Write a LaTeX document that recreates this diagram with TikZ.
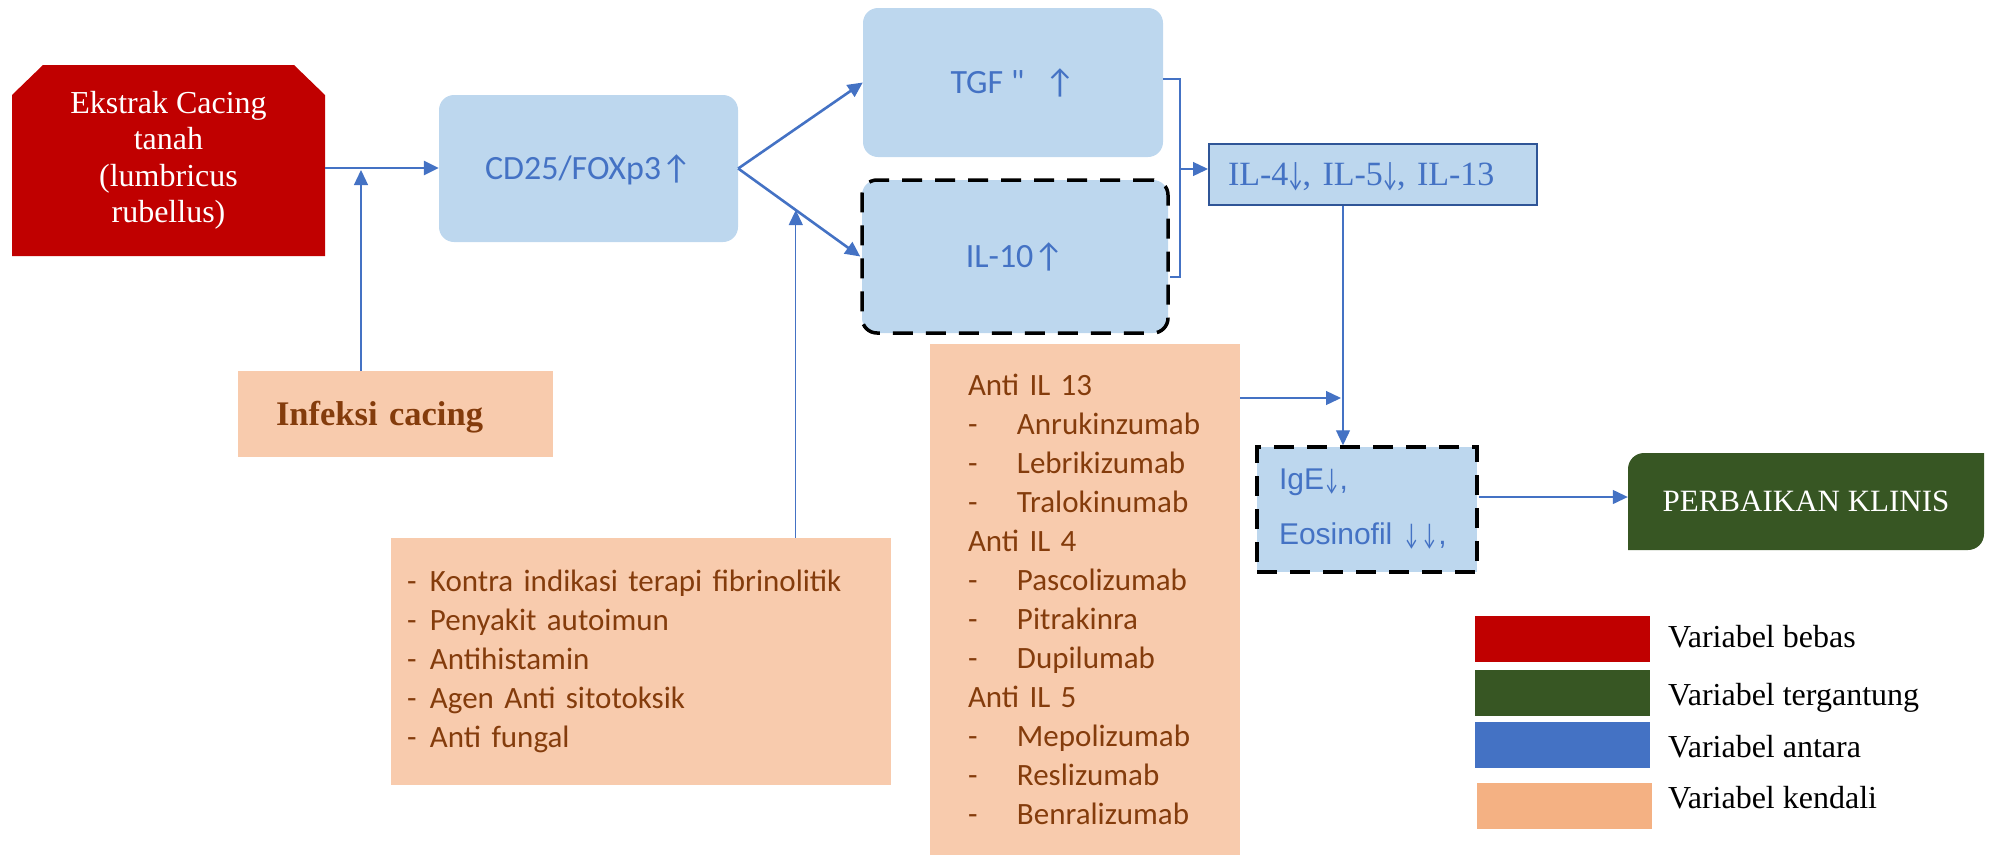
\documentclass[tikz,border=0pt]{standalone}
\usepackage{fontspec}
\setmainfont{Liberation Serif}
\newfontfamily\calfont{Carlito}
\newfontfamily\arifont{Liberation Sans}
\newcommand{\dnarr}[1]{\makebox[#1]{\scalebox{0.6}[1]{\calfont ↓}}}
\usetikzlibrary{arrows.meta,calc}
\definecolor{redc}{HTML}{C00000}
\definecolor{greenc}{HTML}{375623}
\definecolor{bluec}{HTML}{4472C4}
\definecolor{blued}{HTML}{2F5597}
\definecolor{lblue}{HTML}{BDD7EE}
\definecolor{lorange}{HTML}{F8CBAD}
\definecolor{orangec}{HTML}{F4B183}
\definecolor{brownc}{HTML}{843C0C}
\begin{document}
\begin{tikzpicture}[x=1pt,y=-1pt,
  mainarr/.style={draw=bluec,line width=2.6pt,-{Triangle[length=15pt,width=14pt]}},
  thinarr/.style={draw=bluec,line width=1.3pt,-{Triangle[length=15pt,width=14pt]}},
  thinline/.style={draw=bluec,line width=1.3pt},
  lbbox/.style={fill=lblue,rounded corners=15pt,inner sep=0pt,text=bluec,font=\fontsize{34}{40}\selectfont\calfont,text height=22pt,text depth=0pt},
  dashbox/.style={draw=black,line width=3.5pt,dash pattern=on 20pt off 13pt},
  orbox/.style={fill=lorange,inner ysep=0pt,text=brownc,align=left},
  legbox/.style={minimum width=175pt,minimum height=46pt,inner sep=0pt},
  legtxt/.style={anchor=base west,inner sep=0pt,font=\fontsize{32}{38}\selectfont},
]
\useasboundingbox (0,0) rectangle (1990,855);

% independent variable
\fill[redc] (12,256) -- (12,95) -- (43,65) -- (294,65) -- (325,95) -- (325,256) -- cycle;
\node[minimum width=313pt,minimum height=191pt,inner sep=0pt,text=white,font=\fontsize{32}{36.5}\selectfont] (ext) at (168.5,160.5)
  {\raisebox{-7.5pt}{\begin{tabular}{@{}c@{}}Ekstrak Cacing\\tanah\\(lumbricus\\rubellus)\end{tabular}}};

% intermediate boxes
\node[lbbox,minimum width=299pt,minimum height=147pt] (cd) at (588.5,168.5) {CD25/FOXp3↑};
\node[lbbox,minimum width=300pt,minimum height=149pt] (tgf) at (1013,82.5) {TGF "\hspace{20pt}↑};
\node[lbbox,dashbox,minimum width=306pt,minimum height=153pt] (il10) at (1015,256.5) {IL-10↑};
\node[fill=lblue,draw=blued,line width=2pt,minimum width=328pt,minimum height=61pt,inner xsep=19pt,inner ysep=0pt,text width=290pt,align=left,text=bluec,font=\fontsize{34}{40}\selectfont,text height=22.5pt,text depth=0pt] (il4) at (1373,174.5) {\mbox{IL-4\dnarr{0.42em}, IL-5\dnarr{0.42em}, IL-13}};
\node[fill=lblue,dashbox,minimum width=220pt,minimum height=125pt,inner xsep=22pt,inner ysep=0pt,text width=176pt,align=left,text=bluec,font=\fontsize{30}{55}\selectfont\arifont] (ige) at (1367,509.5) {\mbox{IgE\dnarr{0.52em},}\\\mbox{Eosinofil \dnarr{0.6em}\dnarr{0.6em},}};

% control variables
\node[orbox,minimum width=315pt,minimum height=86pt,inner xsep=38pt,text width=239pt,font=\bfseries\fontsize{34.5}{40}\selectfont,text height=23pt,text depth=0pt] (inf) at (395.5,414) {Infeksi cacing};
\node[orbox,minimum width=500pt,minimum height=247pt,inner xsep=16pt,text width=468pt,font=\fontsize{31}{39}\selectfont\calfont] (kon) at (641,661.5)
  {\makebox[23pt][l]{-}Kontra indikasi terapi fibrinolitik\\
   \makebox[23pt][l]{-}Penyakit autoimun\\
   \makebox[23pt][l]{-}Antihistamin\\
   \makebox[23pt][l]{-}Agen Anti sitotoksik\\
   \makebox[23pt][l]{-}Anti fungal};
\node[orbox,minimum width=310pt,minimum height=511pt,inner xsep=38pt,text width=234pt,font=\fontsize{31}{39}\selectfont\calfont] (anti) at (1085,599.5)
  {Anti IL 13\\
   \makebox[49pt][l]{-}Anrukinzumab\\
   \makebox[49pt][l]{-}Lebrikizumab\\
   \makebox[49pt][l]{-}Tralokinumab\\
   Anti IL 4\\
   \makebox[49pt][l]{-}Pascolizumab\\
   \makebox[49pt][l]{-}Pitrakinra\\
   \makebox[49pt][l]{-}Dupilumab\\
   Anti IL 5\\
   \makebox[49pt][l]{-}Mepolizumab\\
   \makebox[49pt][l]{-}Reslizumab\\
   \makebox[49pt][l]{-}Benralizumab};

% dependent variable
\fill[greenc] (1628,550) -- (1628,469) arc[start angle=180,end angle=270,radius=16] -- (1984,453) -- (1984,534) arc[start angle=0,end angle=90,radius=16] -- cycle;
\node[minimum width=356pt,minimum height=97pt,inner sep=0pt,text=white,font=\fontsize{31}{37}\selectfont,text height=20pt,text depth=0pt] (per) at (1806,501.5) {PERBAIKAN KLINIS};

% legend
\node[legbox,fill=redc] (lg1) at (1562.5,639) {};
\node[legbox,fill=greenc] (lg2) at (1562.5,693) {};
\node[legbox,fill=bluec] (lg3) at (1562.5,745) {};
\node[legbox,fill=orangec] (lg4) at (1564.5,806) {};
\node[legtxt] (lt1) at (1668,647) {Variabel bebas};
\node[legtxt] (lt2) at (1668,705) {Variabel tergantung};
\node[legtxt] (lt3) at (1668,757) {Variabel antara};
\node[legtxt] (lt4) at (1668,808) {Variabel kendali};

% connectors
\coordinate (extE) at (325,168);
\coordinate (j1) at (361,170);
\coordinate (b1) at (1180,79);
\coordinate (b2) at (1180,277);
\coordinate (b3) at (1180,169);
\coordinate (j3) at (1343,0);
\coordinate (j4) at (1341,398);
\coordinate (j5) at (0,497);
\coordinate (j2) at ($(cd.east)!0.472!(il10.west)$);

\draw[mainarr] (extE) -- (cd.west |- extE);
\draw[thinarr] (inf.north -| j1) -- (j1);
\draw[mainarr] (cd.east) -- (tgf.west);
\draw[mainarr] (cd.east) -- (il10.west);
\draw[thinarr] (kon.north -| j2) -- (j2);
\draw[thinline] (tgf.east |- b1) -- (b1) -- (b2) -- (il10.east |- b2);
\draw[thinarr] (b3) -- (il4.west |- b3);
\draw[thinarr] (il4.south -| j3) -- (ige.north -| j3);
\draw[thinarr] (anti.east |- j4) -- (j4);
\draw[thinarr] (ige.east |- j5) -- (per.west |- j5);
\end{tikzpicture}
\end{document}
